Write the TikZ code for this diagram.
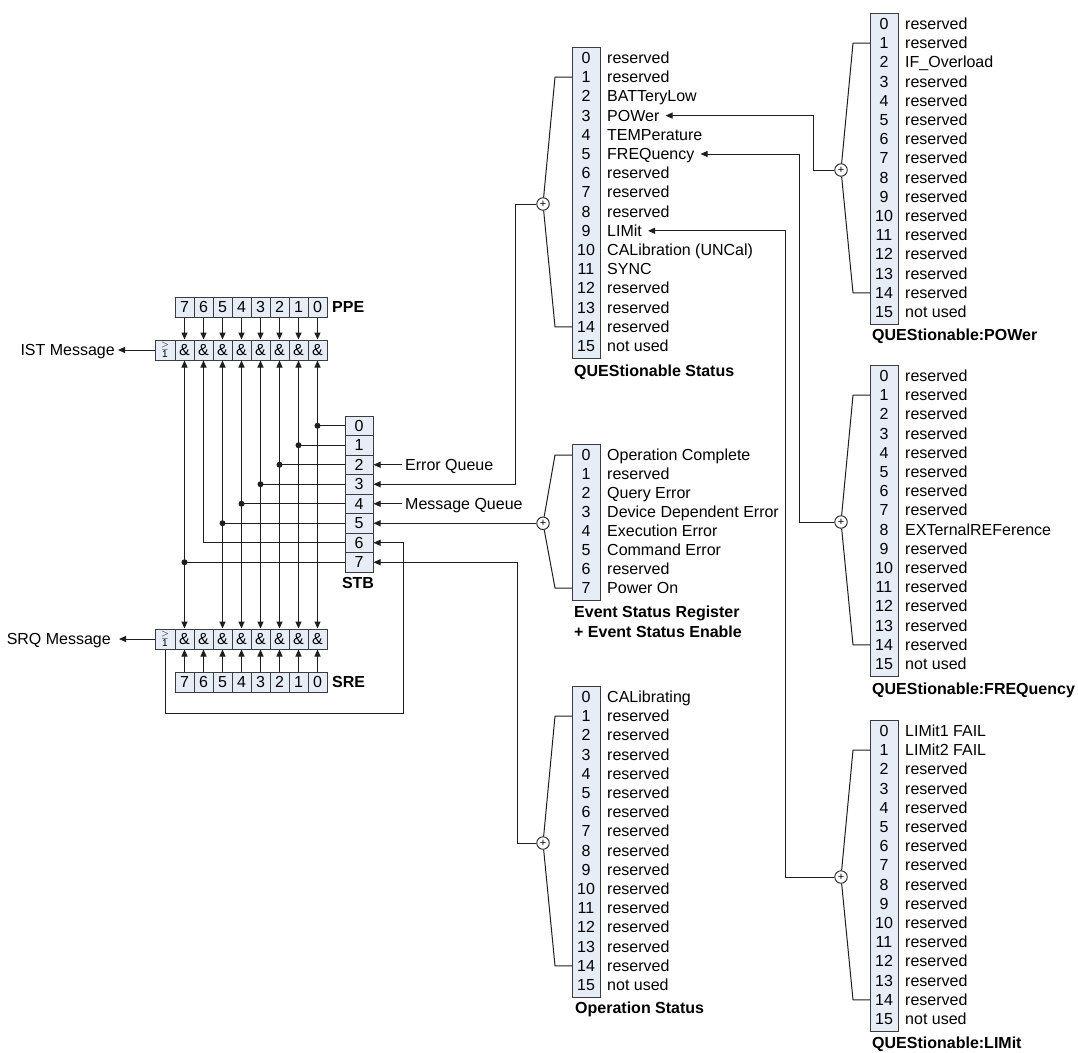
\documentclass[tikz,border=0pt]{standalone}
\usepackage{fontspec}
\setmainfont{Liberation Sans}
\usetikzlibrary{arrows.meta,calc}
\definecolor{cellfill}{HTML}{E6EDF7}
\definecolor{boxline}{HTML}{3C3C3C}
\definecolor{wirecol}{HTML}{1E1E1E}
\newcommand\statreg[6]{%
  \node[regbox, minimum height=#5, anchor=north west] (#1) at (#2,#3-11) {};
  \foreach \lab [count=\rr from 0] in {#6}{%
    \node[txt] (#1-n\rr) at (#2+14,#3+#4*\rr) {\rr};
    \node[txt, anchor=west] (#1-l\rr) at (#2+35,#3+#4*\rr) {\lab};
  }%
}
\newcommand\regplus[5]{%
  \node[plusnode] (#1p) at (#2,#3) {+};
  \draw[wire] (#1p) -- ($(#1-n#4 -| #1.west)+(-17,0)$) -- (#1-n#4 -| #1.west);
  \draw[wire] (#1p) -- ($(#1-n#5 -| #1.west)+(-17,0)$) -- (#1-n#5 -| #1.west);
}
\begin{document}
\begin{tikzpicture}[x=1pt,y=-1pt,
  txt/.style={font=\fontsize{16}{18}\selectfont, inner sep=0pt, text height=13.8pt, text depth=3pt},
  ttl/.style={txt, font=\fontsize{16}{18}\selectfont\bfseries},
  cell/.style={draw=boxline, fill=cellfill, line width=1pt, minimum width=19pt, minimum height=20pt, inner sep=0pt, text height=13.8pt, text depth=3pt, font=\fontsize{16}{18}\selectfont},
  orcell/.style={draw=boxline, fill=cellfill, line width=1pt, minimum width=20pt, minimum height=20pt, inner sep=0pt, align=center, font=\fontsize{10}{8}\selectfont},
  regbox/.style={draw=boxline, fill=cellfill, line width=1pt, inner sep=0pt, minimum width=28pt},
  wire/.style={draw=wirecol, line width=1pt},
  arr/.style={wire, -{Triangle[length=7pt,width=6pt]}},
  dotnode/.style={circle, fill=wirecol, inner sep=0pt, minimum size=6pt},
  plusnode/.style={circle, draw=wirecol, fill=white, line width=0.9pt, minimum size=12.5pt, inner sep=0pt, font=\fontsize{11}{11}\selectfont},
]
\fill[white] (0,0) rectangle (1078,1052);
\useasboundingbox (0,0) rectangle (1078,1052);

% ---------- PPE / SRE gates ----------
\foreach \b [count=\k from 0] in {7,6,...,0} {
  \node[cell] (ppe\b) at (184.5+19*\k, 307) {\b};
  \node[cell] (pg\b) at (184.5+19*\k, 350) {\&};
  \node[cell] (sg\b) at (184.5+19*\k, 639) {\&};
  \node[cell] (sre\b) at (184.5+19*\k, 682) {\b};
}
\node[orcell] (pgor) at (165,350) {$\geq$\\1};
\node[orcell] (sgor) at (165,639) {$\geq$\\1};
\node[ttl, anchor=west] (ppet) at (332,307) {PPE};
\node[ttl, anchor=west] (sret) at (332,682) {SRE};

\foreach \b in {0,...,7} {
  \draw[arr] (ppe\b) -- (pg\b);
  \draw[arr] (sre\b) -- (sg\b);
}

% ---------- STB ----------
\foreach \b in {0,...,7}
  \node[cell, minimum width=28pt, minimum height=19.5pt] (stb\b) at (359, 425.75+19.5*\b) {\b};
\node[ttl] (stbt) at (358,583) {STB};

\foreach \b in {0,1,2,3,4,5,7} {
  \coordinate (j\b) at (pg\b |- stb\b);
  \draw[wire] (j\b) -- (stb\b.west);
}
\foreach \b in {0,1,2,3,4,5,7} {
  \draw[arr] (j\b) -- (pg\b.south);
  \draw[arr] (j\b) -- (sg\b.north);
  \node[dotnode] (d\b) at (j\b) {};
}
\draw[arr] (stb6.west) -| (pg6.south);

% messages
\node[txt, anchor=east] (ist) at (115,350) {IST Message};
\draw[arr, shorten >=3pt] (pgor.west) -- (ist.east);
\node[txt, anchor=east] (srq) at (111,639) {SRQ Message};
\draw[arr, shorten >=8pt] (sgor.west) -- (srq.east);

% feedback SRQ -> STB6
\coordinate (fbA) at (403,713);
\draw[arr] (sgor.south) |- (fbA) |- (stb6.east);

% queues
\node[txt, anchor=west] (eq) at (405,464.75) {Error Queue};
\draw[arr] ([xshift=-3pt]eq.west) -- (stb2.east);
\node[txt, anchor=west] (mq) at (405,503.75) {Message Queue};
\draw[arr] ([xshift=-3pt]mq.west) -- (stb4.east);

% ---------- status registers ----------
\statreg{ques}{572}{58}{19.2}{311}{reserved,reserved,BATTeryLow,POWer,TEMPerature,FREQuency,reserved,reserved,reserved,LIMit,CALibration (UNCal),SYNC,reserved,reserved,reserved,not used}
\node[ttl, anchor=west] (quest) at (574,371) {QUEStionable Status};
\regplus{ques}{543}{204}{1}{14}

\statreg{esr}{572}{455}{19}{156}{Operation Complete,reserved,Query Error,Device Dependent Error,Execution Error,Command Error,reserved,Power On}
\node[ttl, anchor=west] (esrt1) at (574,612) {Event Status Register};
\node[ttl, anchor=west] (esrt2) at (574,632) {+ Event Status Enable};
\regplus{esr}{543}{523.25}{0}{7}

\statreg{oper}{572}{697}{19.2}{311}{CALibrating,reserved,reserved,reserved,reserved,reserved,reserved,reserved,reserved,reserved,reserved,reserved,reserved,reserved,reserved,not used}
\node[ttl, anchor=west] (opert) at (575,1008) {Operation Status};
\regplus{oper}{543}{843}{1}{14}

\statreg{pow}{870}{24}{19.2}{311}{reserved,reserved,IF\_Overload,reserved,reserved,reserved,reserved,reserved,reserved,reserved,reserved,reserved,reserved,reserved,reserved,not used}
\node[ttl, anchor=west] (powt) at (872,335) {QUEStionable:POWer};
\regplus{pow}{841}{170}{1}{14}

\statreg{freq}{870}{376}{19.2}{311}{reserved,reserved,reserved,reserved,reserved,reserved,reserved,reserved,EXTernalREFerence,reserved,reserved,reserved,reserved,reserved,reserved,not used}
\node[ttl, anchor=west] (freqt) at (872,689) {QUEStionable:FREQuency};
\regplus{freq}{841}{522}{1}{14}

\statreg{lim}{870}{731}{19.2}{311}{LIMit1 FAIL,LIMit2 FAIL,reserved,reserved,reserved,reserved,reserved,reserved,reserved,reserved,reserved,reserved,reserved,reserved,reserved,not used}
\node[ttl, anchor=west] (limt) at (872,1043) {QUEStionable:LIMit};
\regplus{lim}{841}{877}{1}{14}

% ---------- connections to STB ----------
\coordinate (qc) at (515,204);
\draw[arr] (quesp.west) -- (qc) |- (stb3.east);
\draw[arr] (esrp.west) -- (stb5.east);
\coordinate (oc) at (517,843);
\draw[arr] (operp.west) -- (oc) |- (stb7.east);

% ---------- sub-registers to QUEStionable ----------
\coordinate (pc) at (813,170);
\draw[arr, shorten >=6pt] (powp.west) -- (pc) |- (ques-l3.east);
\coordinate (fc) at (799,522);
\draw[arr, shorten >=6pt] (freqp.west) -- (fc) |- (ques-l5.east);
\coordinate (lc) at (785,877);
\draw[arr, shorten >=6pt] (limp.west) -- (lc) |- (ques-l9.east);
\end{tikzpicture}
\end{document}
